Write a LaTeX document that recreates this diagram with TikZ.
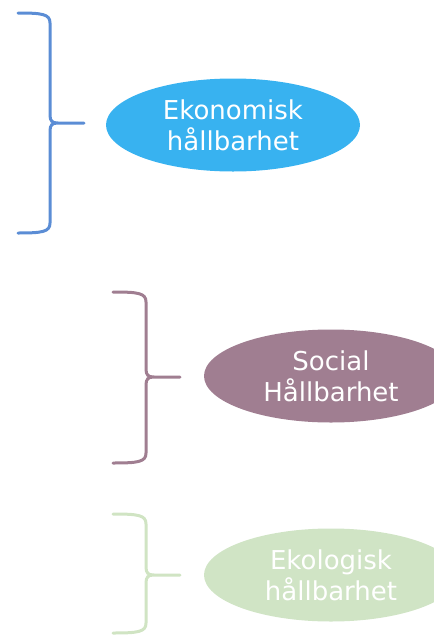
\documentclass[tikz,border=0pt]{standalone}
\usepackage{fontspec}
\setmainfont{DejaVu Sans}
\usetikzlibrary{shapes.geometric}
\definecolor{bracea}{HTML}{5B8DD5}
\definecolor{ovala}{HTML}{38B2F0}
\definecolor{braceb}{HTML}{A07E91}
\definecolor{ovalb}{HTML}{A07E91}
\definecolor{bracec}{HTML}{D0E4C3}
\definecolor{ovalc}{HTML}{D0E4C5}
\begin{document}
\begin{tikzpicture}[x=1pt, y=-1pt,
  oval/.style={ellipse,minimum width=254pt,minimum height=93pt,inner sep=0pt,
    text=white,align=center,font=\fontsize{26}{31}\selectfont}]
\useasboundingbox (0,0) rectangle (434,635);
\clip (0,0) rectangle (434,635);
% braces
\foreach \xa/\xb/\xc/\yt/\ym/\yb/\col in {18/50/84/13/123/233/bracea,
    113/146/180/292/377/463/braceb, 113/146/180/514/575/633/bracec} {
  \draw[\col,line width=3pt,line cap=round,line join=round]
    (\xa,\yt) .. controls (\xb-8,\yt) and (\xb,\yt+1) .. (\xb,\yt+10)
    -- (\xb,\ym-8) .. controls (\xb,\ym-2) and (\xb+2,\ym) .. (\xb+8,\ym) -- (\xc,\ym)
    (\xb+8,\ym) .. controls (\xb+2,\ym) and (\xb,\ym+2) .. (\xb,\ym+8)
    -- (\xb,\yb-10) .. controls (\xb,\yb-1) and (\xb-8,\yb) .. (\xa,\yb);
}
% ovals
\node[oval,fill=ovala] (eko) at (233,125) {Ekonomisk\\hållbarhet};
\node[oval,fill=ovalb] (soc) at (331,376) {Social\\Hållbarhet};
\node[oval,fill=ovalc] (ekol) at (331,575) {Ekologisk\\hållbarhet};
\end{tikzpicture}
\end{document}
